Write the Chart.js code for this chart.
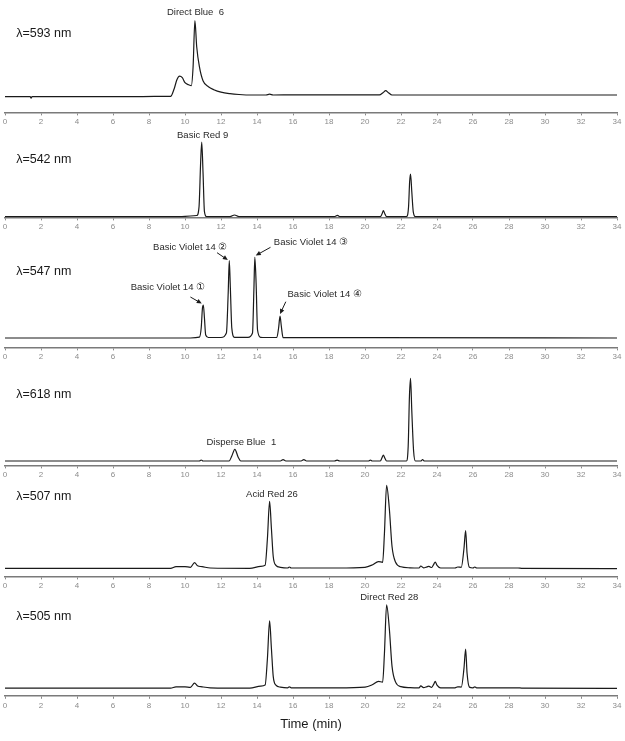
<!DOCTYPE html>
<html>
<head>
<meta charset="utf-8">
<script src="https://cdn.jsdelivr.net/npm/chart.js@4/dist/chart.umd.min.js"></script>
<style>
  html, body { margin: 0; padding: 0; background: #ffffff; }
  #wrap { position: relative; width: 625px; height: 741px; background: #ffffff; }
  #wrap canvas { position: absolute; left: 0; }
</style>
</head>
<body>
<div id="wrap"></div>
<script>
// ---------- DATA (retention time in min, detector response in arbitrary units) ----------
const xTicks = [0, 2, 4, 6, 8, 10, 12, 14, 16, 18, 20, 22, 24, 26, 28, 30, 32, 34];

const t593 = [0, 1.4, 1.45, 1.5, 7.0, 8.3, 9.2, 9.4, 9.55, 9.7, 9.85, 10.0, 10.2, 10.35, 10.45, 10.55, 10.65, 10.8, 11.0, 11.3, 11.6, 12.0, 12.5, 13.0, 13.7, 14.5, 14.7, 14.9, 16.0, 19.5, 20.8, 21.0, 21.15, 21.3, 21.5, 25.5, 34];
const a593 = [0, 0, -1.5, 0, 0, 0.3, 0.3, 8, 17, 20.5, 19, 14, 12, 11, 30, 76, 50, 30, 16, 10, 7, 4.5, 3, 2.2, 1.7, 1.7, 2.5, 1.7, 1.8, 1.8, 1.8, 4, 6, 4, 1.7, 1.7, 1.7];

const t542 = [0, 9.7, 10.3, 10.65, 10.78, 10.87, 10.93, 11.0, 11.08, 11.2, 12.5, 12.75, 13.0, 16.6, 18.3, 18.47, 18.6, 20.85, 20.95, 21.02, 21.1, 21.2, 22.3, 22.42, 22.48, 22.53, 22.6, 22.68, 22.8, 34];
const a542 = [0, 0, 0.7, 1.2, 10, 55, 74.7, 45, 5, 0, 0, 1.7, 0, 0, 0, 1.3, 0, 0, 3, 6, 3, 0, 0, 10, 35, 42.7, 25, 5, 0, 0];

const t547 = [0, 0.95, 1.5, 10.3, 10.8, 10.9, 10.97, 11.02, 11.08, 11.15, 11.3, 12.0, 12.3, 12.4, 12.46, 12.52, 12.6, 12.75, 13.5, 13.75, 13.83, 13.88, 13.95, 14.03, 14.2, 14.5, 15.1, 15.2, 15.28, 15.35, 15.45, 19.6, 34];
const a547 = [0, 0, 0, 0, 0.8, 10, 30, 33, 20, 3, 0.5, 0.5, 5, 45, 77.3, 50, 10, 0.7, 0.7, 5, 50, 80.7, 55, 8, 0.7, 0.5, 0.5, 10, 22, 12, 0.3, 0.3, 0];

const t618 = [0, 10.8, 10.9, 11.0, 12.45, 12.6, 12.77, 12.95, 13.1, 15.3, 15.45, 15.6, 16.45, 16.6, 16.75, 18.3, 18.45, 18.6, 20.2, 20.3, 20.4, 20.85, 20.95, 21.02, 21.1, 21.2, 22.3, 22.4, 22.47, 22.53, 22.6, 22.7, 22.8, 23.1, 23.2, 23.3, 34];
const a618 = [0, 0, 1, 0, 0, 5, 11.7, 4, 0, 0, 1.3, 0, 0, 1.3, 0, 0, 0.8, 0, 0, 0.8, 0, 0, 3.5, 6, 3, 0, 0, 15, 65, 82.7, 50, 10, 0, 0, 1.3, 0, 0];

const t507 = [0, 9.2, 9.5, 10.0, 10.3, 10.53, 10.7, 10.95, 11.4, 13.6, 14.2, 14.45, 14.58, 14.7, 14.8, 14.9, 15.05, 15.3, 15.7, 15.8, 15.9, 18.5, 20.0, 20.4, 20.75, 20.98, 21.08, 21.2, 21.35, 21.5, 21.7, 22.0, 22.5, 23.0, 23.1, 23.25, 23.45, 23.55, 23.7, 23.82, 23.9, 24.0, 24.2, 25.0, 25.15, 25.35, 25.5, 25.59, 25.67, 25.8, 26.0, 26.1, 26.2, 28.5, 28.7, 34];
const a507 = [0, 0, 1.7, 1.7, 1, 5.7, 2.5, 1.7, 0.3, 0, 2, 3, 30, 67, 40, 12, 3, 1, 0.3, 1.3, 0.3, 0.3, 1, 3.3, 6.7, 6, 35, 83, 60, 22, 6, 1.5, 0.5, 0.3, 2.3, 0.5, 1.5, 2, 0.8, 4, 6.3, 3, 0.3, 0.3, 1.3, 1, 20, 37.7, 15, 1, 0.3, 1.3, 0.3, 0.3, 0, -0.3];

const t505 = [0, 9.2, 9.5, 10.0, 10.3, 10.53, 10.7, 10.95, 11.4, 13.6, 14.2, 14.45, 14.58, 14.7, 14.8, 14.9, 15.05, 15.3, 15.7, 15.8, 15.9, 18.5, 20.0, 20.4, 20.75, 20.98, 21.08, 21.2, 21.35, 21.5, 21.7, 22.0, 22.5, 23.0, 23.1, 23.25, 23.45, 23.55, 23.7, 23.82, 23.9, 24.0, 24.2, 25.0, 25.15, 25.35, 25.5, 25.59, 25.67, 25.8, 26.0, 26.1, 26.2, 28.5, 28.7, 34];
const a505 = [0, 0, 1.3, 1.3, 0.8, 5, 2.2, 1.3, 0.3, 0, 2, 3, 30, 67.3, 40, 12, 3, 1, 0.3, 1.3, 0.3, 0.3, 1, 3.3, 6.7, 6, 35, 83.3, 60, 22, 6, 1.5, 0.5, 0.3, 2.3, 0.5, 1.5, 2, 0.8, 4, 6.7, 3, 0.3, 0.3, 1.3, 1, 20, 39, 15, 1, 0.3, 1.3, 0.3, 0.3, 0, -0.3];

const waveLabels = ['λ=593 nm', 'λ=542 nm', 'λ=547 nm', 'λ=618 nm', 'λ=507 nm', 'λ=505 nm'];
const peakNames = ['Direct Blue  6', 'Basic Red 9', 'Basic Violet 14 ①', 'Basic Violet 14 ②', 'Basic Violet 14 ③', 'Basic Violet 14 ④', 'Disperse Blue  1', 'Acid Red 26', 'Direct Red 28'];
const xTitle = 'Time (min)';

// ---------- LAYOUT / STYLE ----------
const FONT = '"Liberation Sans", Arial, Helvetica, sans-serif';
const panels = [
  { t: t593, a: a593, top: 0,   h: 129, ymin: -15.7, ymax: 96.7,
    wave: { x: 0.62, y: 63.5 },
    notes: [{ text: peakNames[0], x: 10.58, y: 84 }] },
  { t: t542, a: a542, top: 128, h: 106, ymin: -0.7, ymax: 88.7,
    wave: { x: 0.62, y: 57 },
    notes: [{ text: peakNames[1], x: 10.98, y: 81.5 }] },
  { t: t547, a: a547, top: 232, h: 132, ymin: -9.4, ymax: 106,
    wave: { x: 0.62, y: 66.3 },
    notes: [
      { text: peakNames[2], x: 9.05, y: 50.3, arrow: [10.3, 41, 10.93, 34.5] },
      { text: peakNames[3], x: 10.29, y: 90.7, arrow: [11.78, 85.3, 12.38, 78] },
      { text: peakNames[4], x: 17.0, y: 95.3, arrow: [14.75, 90.7, 13.93, 82.5] },
      { text: peakNames[5], x: 17.76, y: 44, arrow: [15.6, 36.3, 15.28, 24] }
    ] },
  { t: t618, a: a618, top: 352, h: 130, ymin: -4.4, ymax: 109,
    wave: { x: 0.62, y: 66 },
    notes: [{ text: peakNames[6], x: 13.13, y: 18.3 }] },
  { t: t507, a: a507, top: 472, h: 121, ymin: -8.1, ymax: 96.3,
    wave: { x: 0.62, y: 71.3 },
    notes: [{ text: peakNames[7], x: 14.83, y: 74 }] },
  { t: t505, a: a505, top: 584, h: 152, ymin: -7.7, ymax: 104.3, title: true,
    wave: { x: 0.62, y: 71.3 },
    notes: [{ text: peakNames[8], x: 21.35, y: 90.7 }] }
];

const notesPlugin = {
  id: 'notes',
  afterDraw(chart) {
    const cfg = chart.options.plugins.notes;
    if (!cfg) return;
    const ctx = chart.ctx;
    const xs = chart.scales.x, ys = chart.scales.y;
    ctx.save();
    // wavelength label
    ctx.fillStyle = '#1a1a1a';
    ctx.font = '12.5px ' + FONT;
    ctx.textAlign = 'left';
    ctx.textBaseline = 'middle';
    ctx.fillText(cfg.wave.text, xs.getPixelForValue(cfg.wave.x), ys.getPixelForValue(cfg.wave.y));
    // peak labels
    ctx.font = '9.5px ' + FONT;
    ctx.textAlign = 'center';
    ctx.fillStyle = '#2a2a2a';
    cfg.items.forEach(n => {
      ctx.fillText(n.text, xs.getPixelForValue(n.x), ys.getPixelForValue(n.y));
      if (n.arrow) {
        const x1 = xs.getPixelForValue(n.arrow[0]), y1 = ys.getPixelForValue(n.arrow[1]);
        const x2 = xs.getPixelForValue(n.arrow[2]), y2 = ys.getPixelForValue(n.arrow[3]);
        const ang = Math.atan2(y2 - y1, x2 - x1);
        const L = 5, W = 2.3;
        ctx.strokeStyle = '#1a1a1a';
        ctx.lineWidth = 1;
        ctx.beginPath();
        ctx.moveTo(x1, y1);
        ctx.lineTo(x2 - Math.cos(ang) * L * 0.8, y2 - Math.sin(ang) * L * 0.8);
        ctx.stroke();
        ctx.beginPath();
        ctx.moveTo(x2, y2);
        ctx.lineTo(x2 - Math.cos(ang) * L - Math.sin(ang) * W, y2 - Math.sin(ang) * L + Math.cos(ang) * W);
        ctx.lineTo(x2 - Math.cos(ang) * L + Math.sin(ang) * W, y2 - Math.sin(ang) * L - Math.cos(ang) * W);
        ctx.closePath();
        ctx.fillStyle = '#1a1a1a';
        ctx.fill();
        ctx.fillStyle = '#2a2a2a';
      }
    });
    ctx.restore();
  }
};

const wrap = document.getElementById('wrap');
panels.forEach((p, i) => {
  const cv = document.createElement('canvas');
  cv.width = 625;
  cv.height = p.h;
  cv.style.top = p.top + 'px';
  cv.style.width = '625px';
  cv.style.height = p.h + 'px';
  wrap.appendChild(cv);
  const pts = p.t.map((x, k) => ({ x: x, y: p.a[k] }));
  new Chart(cv.getContext('2d'), {
    type: 'line',
    data: {
      datasets: [{
        data: pts,
        borderColor: '#1a1a1a',
        borderWidth: 1.2,
        pointRadius: 0,
        fill: false,
        cubicInterpolationMode: 'monotone'
      }]
    },
    options: {
      responsive: false,
      animation: false,
      events: [],
      layout: { padding: { left: 5, right: 8, top: 0, bottom: 0 } },
      plugins: {
        legend: { display: false },
        tooltip: { enabled: false },
        notes: {
          wave: { text: waveLabels[i], x: p.wave.x, y: p.wave.y },
          items: p.notes
        }
      },
      scales: {
        x: {
          type: 'linear',
          min: 0, max: 34,
          afterBuildTicks: (sc) => { sc.ticks = xTicks.map(v => ({ value: v })); },
          ticks: { color: '#8c8c8c', font: { family: FONT, size: 8 }, padding: 2, maxRotation: 0, autoSkip: false },
          grid: { display: true, drawOnChartArea: false, drawTicks: true, tickLength: 3, color: '#8a8a8a', lineWidth: 1 },
          border: { display: true, color: '#7a7a7a', width: 1.5 },
          title: {
            display: !!p.title,
            text: xTitle,
            color: '#1a1a1a',
            font: { family: FONT, size: 13 },
            padding: { top: 4, bottom: 4 }
          }
        },
        y: { display: false, min: p.ymin, max: p.ymax }
      }
    },
    plugins: [notesPlugin]
  });
});
</script>
</body>
</html>
